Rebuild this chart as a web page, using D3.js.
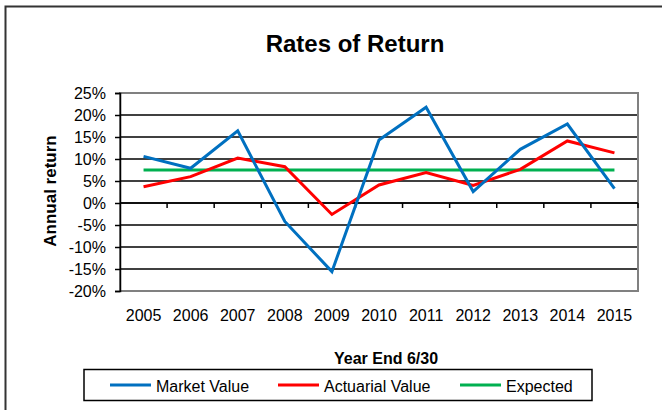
<!DOCTYPE html>
<html><head><meta charset="utf-8">
<script src="https://cdn.jsdelivr.net/npm/d3@7"></script>
<style>body{margin:0;background:#fff}svg{display:block;font-family:"Liberation Sans",Arial,sans-serif}</style>
</head><body>
<svg id="c" width="662" height="410"></svg>
<script>
const years = ["2005","2006","2007","2008","2009","2010","2011","2012","2013","2014","2015"];
const marketValue = [10.6, 7.9, 16.4, -4.2, -15.6, 14.3, 21.75, 2.6, 12.2, 17.95, 3.25];
const actuarialValue = [3.7, 6.0, 10.2, 8.25, -2.6, 4.1, 6.9, 4.0, 7.65, 14.1, 11.4];
const expected = [7.5, 7.5, 7.5, 7.5, 7.5, 7.5, 7.5, 7.5, 7.5, 7.5, 7.5];
const yTicks = [-20, -15, -10, -5, 0, 5, 10, 15, 20, 25];
const seriesNames = ["Market Value", "Actuarial Value", "Expected"];
const seriesColors = ["#0070C0", "#FF0000", "#00B050"];

const svg = d3.select("#c");
const L = 120, R = 638, T = 93, B = 291;

// outer frame
svg.append("path").attr("d","M5.5,420 V6.5 H700").attr("fill","none").attr("stroke","#333").attr("stroke-width",2);

svg.append("text").attr("x",355).attr("y",52).attr("text-anchor","middle")
  .attr("font-size",24).attr("font-weight","bold").text("Rates of Return");

const x = d3.scaleBand().domain(years).range([L, R]);
const y = d3.scaleLinear().domain([-20, 25]).range([B, T]);

// gridlines
svg.append("g").selectAll("line").data(yTicks.filter(t => t > -20 && t < 25)).join("line")
  .attr("x1", L).attr("x2", R).attr("y1", d => y(d)).attr("y2", d => y(d))
  .attr("stroke","#000").attr("stroke-width",1.5);
// plot border
svg.append("rect").attr("x",L).attr("y",T).attr("width",R-L).attr("height",B-T)
  .attr("fill","none").attr("stroke","#808080").attr("stroke-width",2);

// y axis
const yAxis = svg.append("g").attr("transform",`translate(${L},0)`)
  .call(d3.axisLeft(y).tickValues(yTicks).tickFormat(d => d + "%").tickSize(5).tickPadding(9));
yAxis.select(".domain").attr("stroke","#000").attr("stroke-width",1.5);
yAxis.selectAll(".tick line").attr("stroke","#000").attr("stroke-width",1.5);
yAxis.selectAll("text").attr("font-size",16).attr("fill","#000").style("font-family","'Liberation Sans',Arial,sans-serif");

// x axis at zero
const xTickPos = years.map((d,i) => x(d)).concat([R]);
const xg = svg.append("g");
xg.append("line").attr("x1",L).attr("x2",R).attr("y1",y(0)).attr("y2",y(0)).attr("stroke","#000").attr("stroke-width",1.5);
xg.selectAll("line.t").data(xTickPos.slice(1)).join("line").attr("class","t")
  .attr("x1",d=>d).attr("x2",d=>d).attr("y1",y(0)).attr("y2",y(0)+5)
  .attr("stroke","#000").attr("stroke-width",1.5);
svg.append("g").selectAll("text").data(years).join("text")
  .attr("x", d => x(d) + x.bandwidth()/2).attr("y", 321).attr("text-anchor","middle")
  .attr("font-size",16).text(d => d);

// axis titles
svg.append("text").attr("x",386).attr("y",364).attr("text-anchor","middle")
  .attr("font-size",16).attr("font-weight","bold").text("Year End 6/30");
svg.append("text").attr("transform","translate(56,191) rotate(-90)").attr("text-anchor","middle")
  .attr("font-size",17).attr("font-weight","bold").text("Annual return");

// lines
const line = d3.line().x((d,i) => x(years[i]) + x.bandwidth()/2).y(d => y(d));
const allSeries = [marketValue, actuarialValue, expected];
[2,1,0].forEach(k => {
  svg.append("path").datum(allSeries[k]).attr("d", line).attr("fill","none")
    .attr("stroke", seriesColors[k]).attr("stroke-width",3).attr("stroke-linejoin","miter");
});

// legend
svg.append("rect").attr("x",84).attr("y",369.5).attr("width",508).attr("height",31)
  .attr("fill","#fff").attr("stroke","#000").attr("stroke-width",1.5);
const legX = [110, 278, 460];
seriesNames.forEach((n,i) => {
  svg.append("line").attr("x1",legX[i]).attr("x2",legX[i]+41).attr("y1",385).attr("y2",385)
    .attr("stroke",seriesColors[i]).attr("stroke-width",3);
  svg.append("text").attr("x",legX[i]+46).attr("y",392).attr("font-size",16).text(n);
});
</script>
</body></html>
